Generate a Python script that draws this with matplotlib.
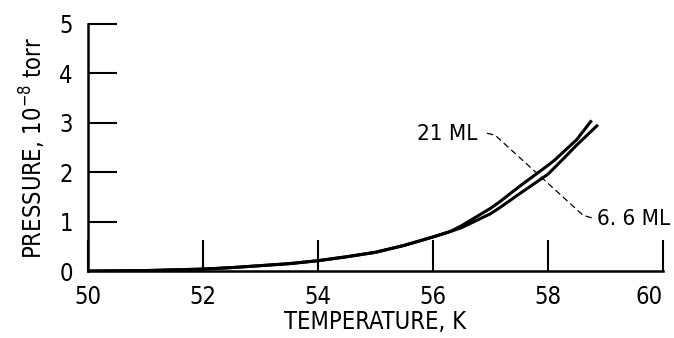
import numpy as np
import matplotlib
matplotlib.use("Agg")
import matplotlib.pyplot as plt

# ── Data ───────────────────────────────────────────────────────────────────
temp_common = [50, 51, 52, 52.5, 53, 53.5, 54, 54.5, 55, 55.5, 56, 56.3]
pres_common = [0.0, 0.01, 0.04, 0.07, 0.11, 0.15, 0.21, 0.29, 0.38, 0.52, 0.69, 0.80]

temp_21ml = [56.5, 57.0, 57.17, 57.5, 58.0, 58.12, 58.5, 58.76]
pres_21ml = [0.92, 1.27, 1.41, 1.71, 2.14, 2.25, 2.66, 3.05]

temp_66ml = [56.5, 57.0, 57.17, 57.5, 58.0, 58.24, 58.5, 58.87]
pres_66ml = [0.88, 1.16, 1.29, 1.56, 1.96, 2.24, 2.55, 2.96]

x_ticks = [50, 52, 54, 56, 58, 60]
y_ticks = [0, 1, 2, 3, 4, 5]

# leader line between the two labels
leader_t = [56.94, 57.08, 58.61, 58.78]
leader_p = [2.79, 2.75, 1.13, 1.07]

# ── Style ──────────────────────────────────────────────────────────────────
plt.rcParams["font.family"] = ["DejaVu Sans"]
plt.rcParams["font.stretch"] = "condensed"
plt.rcParams["mathtext.default"] = "regular"

fig = plt.figure(figsize=(6.74, 3.38), dpi=100)
ax = fig.add_axes([0.1306, 0.198, 0.853, 0.731])

lw = 2.2
ax.plot(temp_common + temp_21ml, pres_common + pres_21ml, color="black", lw=lw,
        solid_capstyle="butt")
ax.plot(temp_common + temp_66ml, pres_common + pres_66ml, color="black", lw=lw,
        solid_capstyle="butt")

ax.plot(leader_t, leader_p, color="black", lw=0.9, ls=(0, (5, 3)))
ax.text(56.77, 2.77, "21 ML", ha="right", va="center", fontsize=16)
ax.text(58.85, 1.05, "6. 6 ML", ha="left", va="center", fontsize=16)

# ── Axes ───────────────────────────────────────────────────────────────────
ax.set_xlim(50, 60)
ax.set_ylim(0, 5)
ax.set_xticks(x_ticks)
ax.set_yticks(y_ticks)
ax.set_xticklabels([str(v) for v in x_ticks])
ax.set_yticklabels([str(v) for v in y_ticks])

for s in ["top", "right"]:
    ax.spines[s].set_visible(False)
for s in ["left", "bottom"]:
    ax.spines[s].set_linewidth(1.8)

ax.tick_params(axis="x", direction="in", length=22, width=1.5, pad=10,
               labelsize=17)
ax.tick_params(axis="y", direction="in", length=21, width=1.5, pad=11,
               labelsize=17)
# last x label sits flush against the right edge in the original
ax.get_xticklabels()[-1].set_horizontalalignment("right")

ax.set_xlabel("TEMPERATURE, K", fontsize=17, labelpad=1)
ax.set_ylabel("PRESSURE, 10$^{-8}$ torr", fontsize=17, labelpad=8)

fig.savefig("out.png", dpi=100)
